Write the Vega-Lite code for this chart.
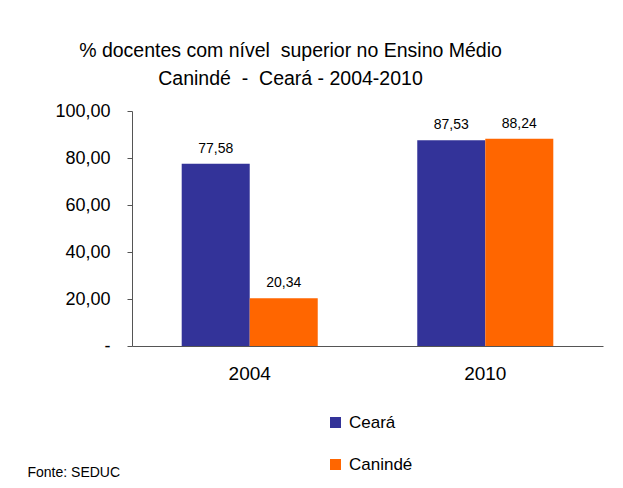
{
  "$schema": "https://vega.github.io/schema/vega-lite/v6.json",
  "autosize": {"type": "none"},
  "padding": {"left": 132, "top": 111, "right": 20, "bottom": 142},
  "width": 471,
  "height": 235,
  "background": "white",
  "config": {
    "font": "Liberation Sans",
    "view": {"stroke": null},
    "locale": {"number": {"decimal": ",", "thousands": ".", "grouping": [3], "currency": ["R$", ""]}}
  },
  "title": {
    "text": ["% docentes com nível\u00a0 superior no Ensino Médio", "Canindé\u00a0 -\u00a0 Ceará - 2004-2010"],
    "anchor": "middle",
    "frame": "group",
    "dx": -77,
    "fontSize": 19.5,
    "fontWeight": "normal",
    "color": "black",
    "lineHeight": 28,
    "offset": 13
  },
  "data": {
    "values": [
      {"ano": "2004", "local": "Ceará", "valor": 77.58},
      {"ano": "2004", "local": "Canindé", "valor": 20.34},
      {"ano": "2010", "local": "Ceará", "valor": 87.53},
      {"ano": "2010", "local": "Canindé", "valor": 88.24}
    ]
  },
  "encoding": {
    "x": {
      "field": "ano", "type": "nominal",
      "scale": {"paddingInner": 0.4225, "paddingOuter": 0.211},
      "axis": {
        "title": "Fonte: SEDUC",
        "titleX": -105, "titleY": 130, "titleAlign": "left", "titleBaseline": "alphabetic",
        "titleFontSize": 14, "titleFontWeight": "normal", "titleColor": "black",
        "labelAngle": 0, "labelFontSize": 19, "labelColor": "black", "labelPadding": 18,
        "ticks": false, "domainColor": "#555"
      }
    },
    "xOffset": {"field": "local", "type": "nominal", "sort": ["Ceará", "Canindé"], "scale": {"paddingInner": 0, "paddingOuter": 0}},
    "y": {
      "field": "valor", "type": "quantitative",
      "scale": {"domain": [0, 100]},
      "axis": {
        "title": null, "values": [0, 20, 40, 60, 80, 100], "format": ".2f",
        "labelExpr": "datum.value === 0 ? '-' : datum.label",
        "grid": false, "labelFontSize": 18, "labelColor": "black", "labelPadding": 17,
        "tickSize": 5, "tickColor": "#555", "domainColor": "#555"
      }
    }
  },
  "layer": [
    {
      "mark": {"type": "bar"},
      "encoding": {
        "color": {
          "field": "local", "type": "nominal",
          "scale": {"domain": ["Ceará", "Canindé"], "range": ["#333399", "#FF6600"]},
          "legend": {
            "orient": "none", "legendX": 195, "legendY": 303, "title": null,
            "symbolType": "square", "symbolSize": 121, "symbolStrokeWidth": 0,
            "labelFontSize": 17, "labelColor": "black", "rowPadding": 24, "padding": 0, "labelOffset": 5
          }
        }
      }
    },
    {
      "mark": {"type": "text", "dy": -11, "baseline": "alphabetic", "fontSize": 14, "color": "black"},
      "encoding": {
        "text": {"field": "valor", "type": "quantitative", "format": ".2f"}
      }
    }
  ]
}
